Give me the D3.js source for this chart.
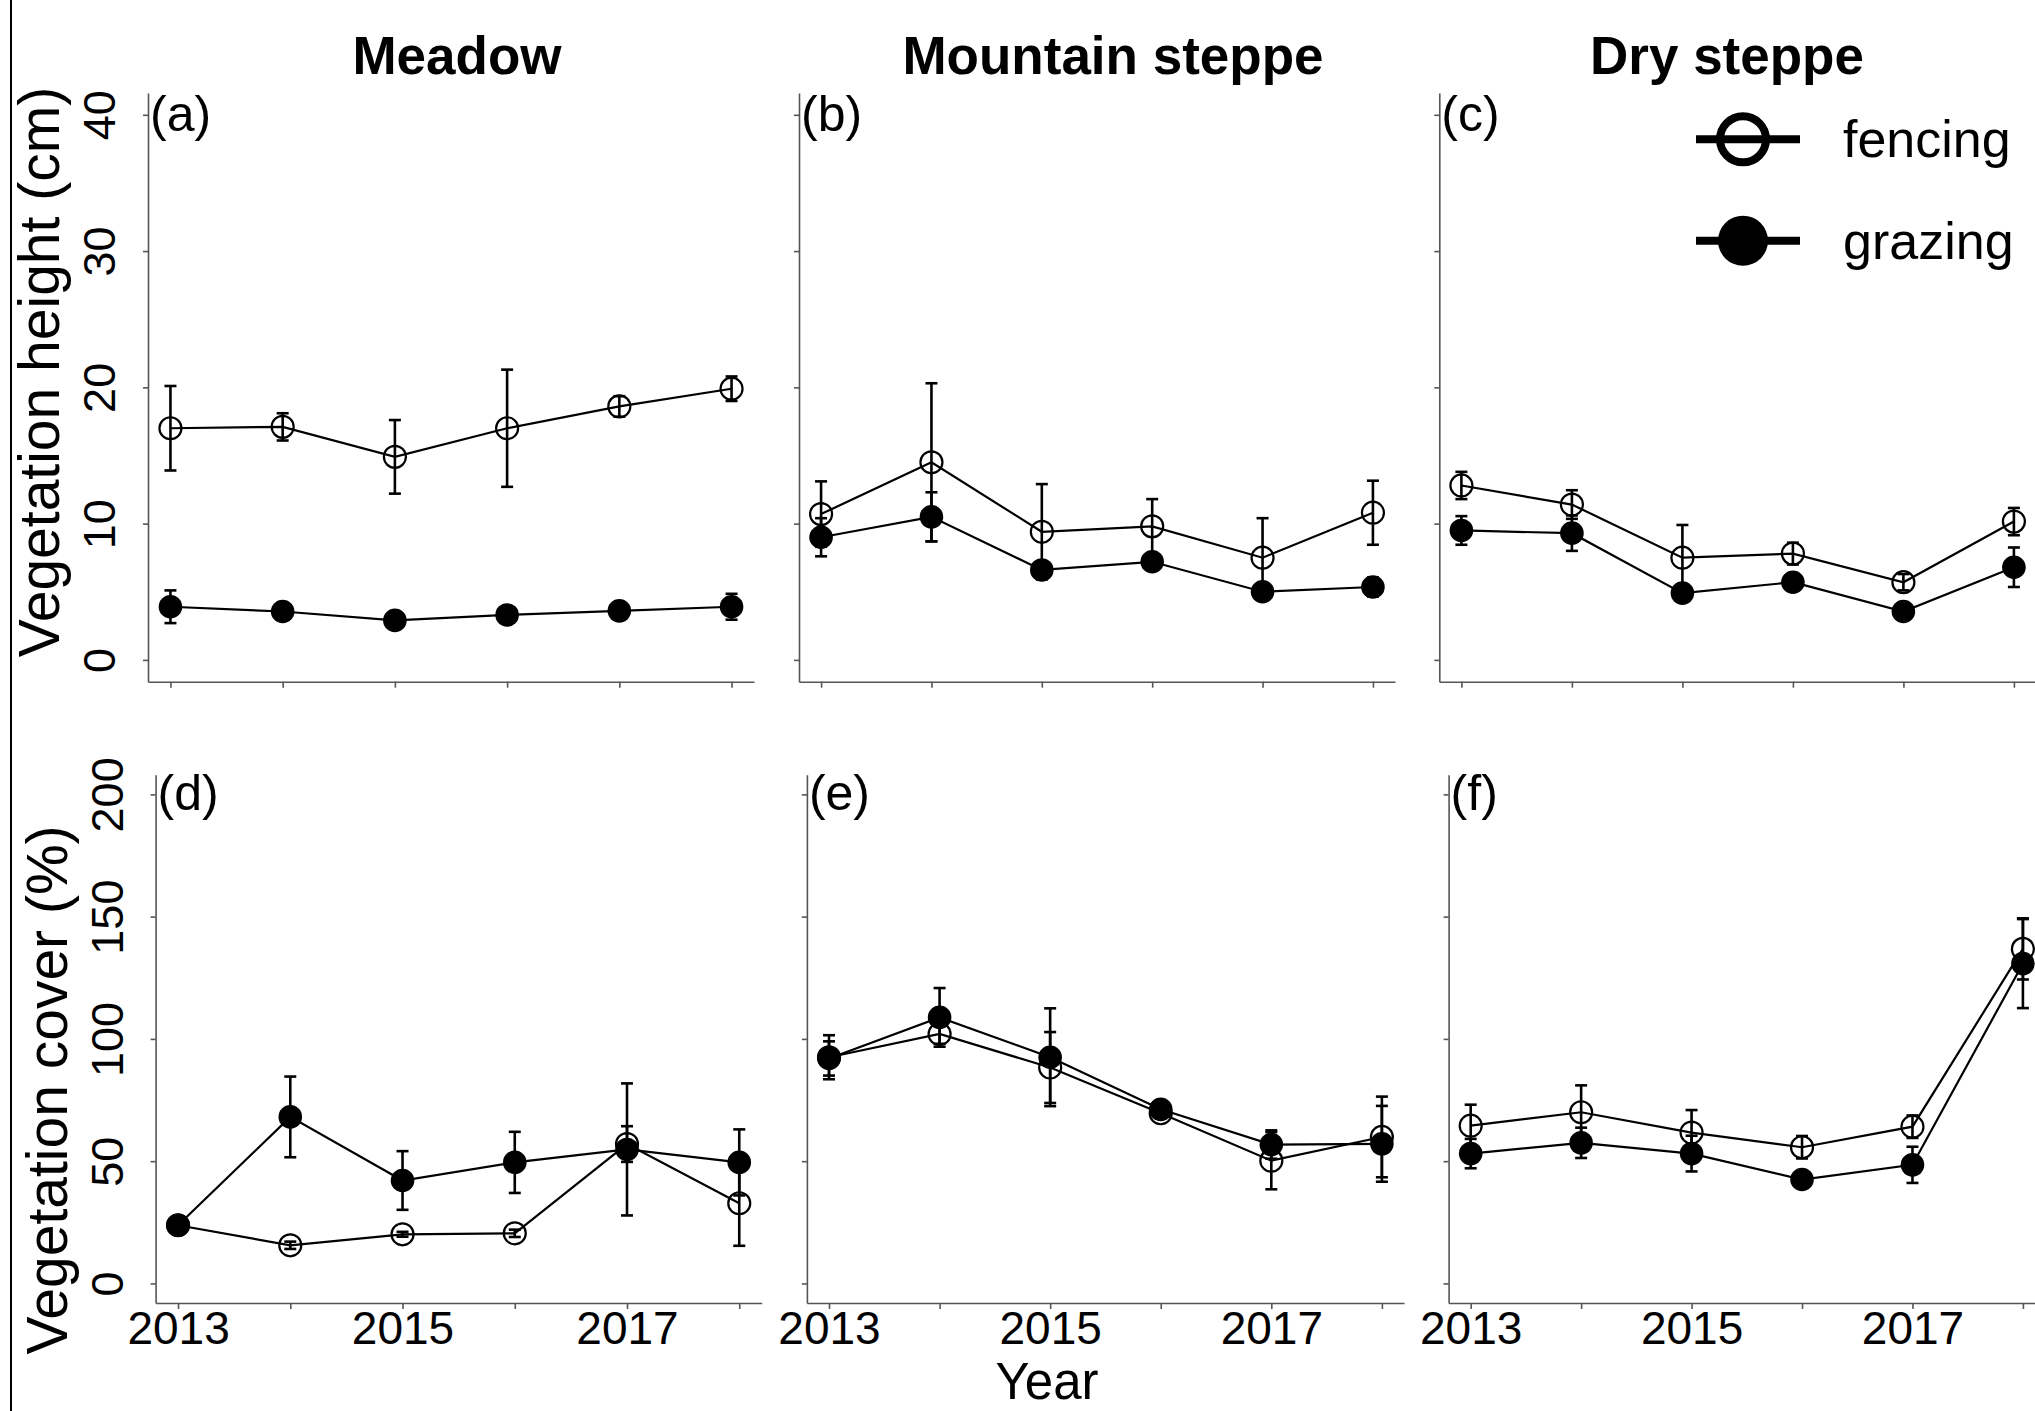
<!DOCTYPE html>
<html>
<head>
<meta charset="utf-8">
<script src="https://cdn.jsdelivr.net/npm/d3@7"></script>
<style>
  body { margin: 0; background: #fff; }
  text { font-family: "Liberation Sans", Arial, sans-serif; fill: #000; }
</style>
</head>
<body>
<div id="my_dataviz"></div>
<script>

// x axis years, and the ones that get a label
var years = [2013, 2014, 2015, 2016, 2017, 2018];
var yearLabels = [2013, 2015, 2017];

// y axis ticks
var heightTicks = [0, 10, 20, 30, 40];
var coverTicks = [0, 50, 100, 150, 200];

var sites = ["Meadow", "Mountain steppe", "Dry steppe"];
var treatments = ["fencing", "grazing"];

// vegetation height (cm): mean and SE
var meadowHeightFencing = [17.0, 17.1, 14.9, 17.0, 18.6, 19.9];
var meadowHeightFencingSE = [3.1, 1.0, 2.7, 4.3, 0.75, 0.9];
var meadowHeightGrazing = [3.9, 3.55, 2.9, 3.3, 3.6, 3.9];
var meadowHeightGrazingSE = [1.2, 0.3, 0.2, 0.3, 0.3, 0.95];

var mountainHeightFencing = [10.7, 14.5, 9.4, 9.8, 7.5, 10.8];
var mountainHeightFencingSE = [2.4, 5.8, 3.5, 2.0, 2.9, 2.35];
var mountainHeightGrazing = [9.0, 10.5, 6.6, 7.2, 5.0, 5.35];
var mountainHeightGrazingSE = [1.4, 1.8, 0.3, 0.3, 0.2, 0.7];

var dryHeightFencing = [12.8, 11.4, 7.5, 7.8, 5.7, 10.15];
var dryHeightFencingSE = [1.0, 1.05, 2.4, 0.8, 0.6, 1.0];
var dryHeightGrazing = [9.5, 9.3, 4.9, 5.7, 3.55, 6.8];
var dryHeightGrazingSE = [1.05, 1.3, 0.3, 0.3, 0.3, 1.45];

// vegetation cover (%): mean and SE
var meadowCoverFencing = [23.8, 15.6, 20.1, 20.5, 57.0, 32.8];
var meadowCoverFencingSE = [1.0, 1.5, 1.0, 1.5, 7.3, 17.4];
var meadowCoverGrazing = [23.8, 68.1, 42.1, 49.5, 54.8, 49.5];
var meadowCoverGrazingSE = [1.0, 16.5, 12.0, 12.5, 27.0, 13.5];

var mountainCoverFencing = [92.5, 102.0, 88.3, 69.6, 50.2, 59.9];
var mountainCoverFencingSE = [9.0, 4.0, 14.5, 2.0, 11.7, 16.5];
var mountainCoverGrazing = [92.0, 108.8, 92.5, 71.2, 56.8, 57.1];
var mountainCoverGrazingSE = [7.0, 12.0, 20.0, 2.0, 5.8, 15.5];

var dryCoverFencing = [64.5, 70.0, 61.7, 55.7, 64.1, 136.8];
var dryCoverFencingSE = [8.6, 11.0, 9.2, 4.6, 4.6, 12.5];
var dryCoverGrazing = [53.1, 57.5, 53.1, 42.5, 48.5, 130.8];
var dryCoverGrazingSE = [6.0, 6.2, 7.3, 1.0, 7.4, 18.2];

// rows of the figure (pixel layout)
var rows = [
  {top: 93, bottom: 681.7, domain: [-1.6, 41.6], ticks: heightTicks,
   label: "Vegetation height (cm)", labelY: 372, tagY: 131},
  {top: 774.8, bottom: 1303, domain: [-8, 208], ticks: coverTicks,
   label: "Vegetation cover (%)", labelY: 1090, tagY: 810}
];

// one entry per panel
var panels = [
  {tag: "(a)", row: 0, col: 0, left: 148, right: 754,
   fence: meadowHeightFencing, fenceSE: meadowHeightFencingSE, graze: meadowHeightGrazing, grazeSE: meadowHeightGrazingSE},
  {tag: "(b)", row: 0, col: 1, left: 799, right: 1395,
   fence: mountainHeightFencing, fenceSE: mountainHeightFencingSE, graze: mountainHeightGrazing, grazeSE: mountainHeightGrazingSE},
  {tag: "(c)", row: 0, col: 2, left: 1439.3, right: 2036,
   fence: dryHeightFencing, fenceSE: dryHeightFencingSE, graze: dryHeightGrazing, grazeSE: dryHeightGrazingSE},
  {tag: "(d)", row: 1, col: 0, left: 155.6, right: 761.7,
   fence: meadowCoverFencing, fenceSE: meadowCoverFencingSE, graze: meadowCoverGrazing, grazeSE: meadowCoverGrazingSE},
  {tag: "(e)", row: 1, col: 1, left: 806.9, right: 1404,
   fence: mountainCoverFencing, fenceSE: mountainCoverFencingSE, graze: mountainCoverGrazing, grazeSE: mountainCoverGrazingSE},
  {tag: "(f)", row: 1, col: 2, left: 1448.6, right: 2045,
   fence: dryCoverFencing, fenceSE: dryCoverFencingSE, graze: dryCoverGrazing, grazeSE: dryCoverGrazingSE}
];

var titleX = [457, 1113, 1727];
var axisColor = "#555";

var svg = d3.select("#my_dataviz")
  .append("svg")
    .attr("width", 2035)
    .attr("height", 1411);

// thin border on the far left
svg.append("line")
  .attr("x1", 11).attr("x2", 11)
  .attr("y1", 0).attr("y2", 1411)
  .attr("stroke", "#000")
  .attr("stroke-width", 2);

// site titles
svg.selectAll(".site")
  .data(sites)
  .enter()
  .append("text")
    .attr("x", function(d, i) { return titleX[i]; })
    .attr("y", 74)
    .attr("text-anchor", "middle")
    .style("font-size", "53px")
    .style("font-weight", "bold")
    .text(function(d) { return d; });

function drawPanel(p) {
  var r = rows[p.row];
  var x = d3.scaleLinear().domain([2012.8, 2018.2]).range([p.left, p.right]);
  var y = d3.scaleLinear().domain(r.domain).range([r.bottom, r.top]);
  var g = svg.append("g");

  // Y axis
  var ya = g.append("g")
    .attr("transform", "translate(" + p.left + ",0)")
    .call(d3.axisLeft(y)
      .tickValues(r.ticks)
      .tickSize(5)
      .tickSizeOuter(0)
      .tickFormat(p.col == 0 ? d3.format("d") : function() { return ""; }));
  ya.selectAll("path, line").attr("stroke", axisColor).attr("stroke-width", 1.6);
  ya.selectAll("text")
    .attr("transform", "rotate(-90)")
    .attr("x", 0)
    .attr("y", -33)
    .attr("dy", 0)
    .attr("text-anchor", "middle")
    .style("font-size", "45px");

  // X axis
  var xa = g.append("g")
    .attr("transform", "translate(0," + r.bottom + ")")
    .call(d3.axisBottom(x)
      .tickValues(years)
      .tickSize(6)
      .tickSizeOuter(0)
      .tickPadding(2)
      .tickFormat(function(d) {
        return (p.row == 1 && yearLabels.indexOf(d) >= 0) ? d : "";
      }));
  xa.selectAll("path, line").attr("stroke", axisColor).attr("stroke-width", 1.6);
  xa.selectAll("text").style("font-size", "46px");

  // panel tag
  g.append("text")
    .attr("x", p.left + 2)
    .attr("y", r.tagY)
    .style("font-size", "50px")
    .text(p.tag);

  var line = d3.line()
    .x(function(d, i) { return x(years[i]); })
    .y(function(d) { return y(d); });

  var series = [
    {mean: p.fence, se: p.fenceSE, filled: false},
    {mean: p.graze, se: p.grazeSE, filled: true}
  ];

  series.forEach(function(s) {
    g.append("path")
      .datum(s.mean)
      .attr("d", line)
      .attr("fill", "none")
      .attr("stroke", "#000")
      .attr("stroke-width", 2.2);

    // error bars
    var eb = g.selectAll(null)
      .data(s.mean)
      .enter()
      .append("g")
        .attr("stroke", "#000")
        .attr("stroke-width", 2.6);
    eb.append("line")
      .attr("x1", function(d, i) { return x(years[i]); })
      .attr("x2", function(d, i) { return x(years[i]); })
      .attr("y1", function(d, i) { return y(d - s.se[i]); })
      .attr("y2", function(d, i) { return y(d + s.se[i]); });
    [-1, 1].forEach(function(sign) {
      eb.append("line")
        .attr("x1", function(d, i) { return x(years[i]) - 6; })
        .attr("x2", function(d, i) { return x(years[i]) + 6; })
        .attr("y1", function(d, i) { return y(d + sign * s.se[i]); })
        .attr("y2", function(d, i) { return y(d + sign * s.se[i]); });
    });

    g.selectAll(null)
      .data(s.mean)
      .enter()
      .append("circle")
        .attr("cx", function(d, i) { return x(years[i]); })
        .attr("cy", function(d) { return y(d); })
        .attr("r", s.filled ? 11.8 : 11)
        .attr("fill", s.filled ? "#000" : "none")
        .attr("stroke", "#000")
        .attr("stroke-width", s.filled ? 0 : 2.2);
  });

  // y axis title on the left column
  if (p.col == 0) {
    svg.append("text")
      .attr("transform", "translate(" + (p.left - 89) + "," + r.labelY + ") rotate(-90)")
      .attr("text-anchor", "middle")
      .style("font-size", "57px")
      .text(r.label);
  }
}

panels.forEach(drawPanel);

// x axis title
svg.append("text")
  .attr("x", 1047)
  .attr("y", 1399)
  .attr("text-anchor", "middle")
  .style("font-size", "51px")
  .text("Year");

// legend in panel (c)
var legendY = [139.3, 240.7];
var legend = svg.selectAll(".legend")
  .data(treatments)
  .enter()
  .append("g")
    .attr("transform", function(d, i) { return "translate(0," + legendY[i] + ")"; });
legend.append("line")
  .attr("x1", 1696).attr("x2", 1800)
  .attr("y1", 0).attr("y2", 0)
  .attr("stroke", "#000")
  .attr("stroke-width", 8);
legend.append("circle")
  .attr("cx", 1743)
  .attr("cy", 0)
  .attr("r", function(d, i) { return i == 0 ? 23 : 25; })
  .attr("fill", function(d, i) { return i == 0 ? "none" : "#000"; })
  .attr("stroke", "#000")
  .attr("stroke-width", function(d, i) { return i == 0 ? 8 : 0; });
legend.append("text")
  .attr("x", 1843)
  .attr("y", 18)
  .style("font-size", "52px")
  .text(function(d) { return d; });

</script>
</body>
</html>
